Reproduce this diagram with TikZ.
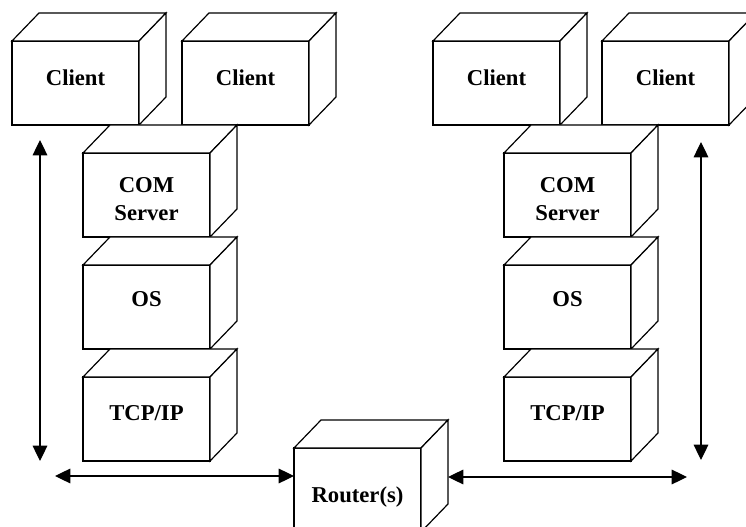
\documentclass[tikz,border=0pt]{standalone}
\usepackage{fontspec}
\setmainfont{Liberation Serif}
\usetikzlibrary{arrows.meta}

% A box drawn as a cube: front face, top face and right face.
% #1 name, #2 x, #3 y of the front face's top left corner,
% #4 label, #5 drop of the label's centre below the top edge
\newcommand\cubebox[5]{%
  \node[face] (#1) at (#2,#3) {};
  \draw[fill=white] (#1.north west) -- ++(27,-28) -- ++(127,0) -- (#1.north east) -- cycle;
  \draw[fill=white] (#1.north east) -- ++(27,-28) coordinate (#1-back) -- ++(0,84) -- (#1.south east) -- cycle;
  \path (#1.north) ++(0,#5) node[boxtext] (#1-t) {#4};
}

\begin{document}
\begin{tikzpicture}[x=0.75pt, y=-0.75pt, line width=0.9pt,
  face/.style={draw, fill=white, minimum width=95.25pt, minimum height=63pt,
    inner sep=0pt, outer sep=0pt, anchor=north west},
  boxtext/.style={font=\fontsize{17}{21.5}\selectfont\bfseries, align=center,
    inner sep=0pt},
  link/.style={{Triangle[length=11.5pt,width=11pt]}-{Triangle[length=11.5pt,width=11pt]}}]
  \useasboundingbox (0,0) rectangle (746,527);
  \clip (0,0) rectangle (746,527);

  % left host
  \cubebox{cl1}{12}{41}{Client}{36.5}
  \cubebox{cl2}{182}{41}{Client}{36.5}
  \cubebox{comL}{83}{153}{COM\\Server}{46}
  \cubebox{osL}{83}{265}{OS}{34}
  \cubebox{tcpL}{83}{377}{TCP/IP}{36}

  % right host
  \cubebox{cl3}{433}{41}{Client}{36.5}
  \cubebox{cl4}{602}{41}{Client}{36.5}
  \cubebox{comR}{504}{153}{COM\\Server}{46}
  \cubebox{osR}{504}{265}{OS}{34}
  \cubebox{tcpR}{504}{377}{TCP/IP}{36}

  % network in between
  \cubebox{rt}{294}{448}{Router(s)}{49}

  % free ends of the arrows
  \coordinate (lvTop) at (40,140);
  \coordinate (lvBot) at (40,461);
  \coordinate (lhEnd) at (55,476);
  \coordinate (rhEnd) at (687,477);
  \coordinate (rvTop) at (701,142);
  \coordinate (rvBot) at (701,460);

  \draw[link] (lvTop) -- (lvBot);
  \draw[link] (rvTop) -- (rvBot);
  \draw[link] (lhEnd) -- (lhEnd -| rt.west);
  \draw[link] (rhEnd -| rt-back) -- (rhEnd);
\end{tikzpicture}
\end{document}
